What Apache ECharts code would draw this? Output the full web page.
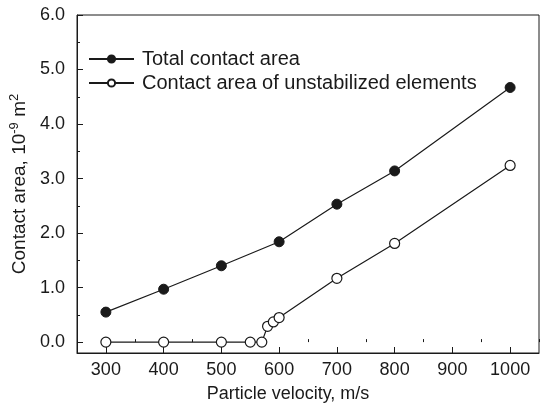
<!DOCTYPE html>
<html>
<head>
<meta charset="utf-8">
<script src="https://cdn.jsdelivr.net/npm/echarts@6/dist/echarts.min.js"></script>
<style>
html,body{margin:0;padding:0;background:#fff;}
#chart{width:550px;height:408px;}
</style>
</head>
<body>
<div id="chart"></div>
<script>
var totalVelocity = [300, 400, 500, 600, 700, 800, 1000];
var totalArea = [0.55, 0.97, 1.40, 1.84, 2.53, 3.14, 4.67];
var unstabVelocity = [300, 400, 500, 550, 570, 580, 590, 600, 700, 800, 1000];
var unstabArea = [0, 0, 0, 0, 0, 0.29, 0.37, 0.45, 1.17, 1.81, 3.24];
var xMajorTicks = [300, 400, 500, 600, 700, 800, 900, 1000];
var xMinorTicks = [250, 350, 450, 550, 650, 750, 850, 950, 1050];
var yMajorTicks = [0, 1, 2, 3, 4, 5, 6];
var yMinorTicks = [0.5, 1.5, 2.5, 3.5, 4.5, 5.5];
var seriesNames = ['Total contact area', 'Contact area of unstabilized elements'];

function pairs(xs, ys) { return xs.map(function (x, i) { return [x, ys[i]]; }); }

var FONT = 'Liberation Sans, Arial, Helvetica, sans-serif';
var INK = '#1a1a1a';
var chart = echarts.init(document.getElementById('chart'), null, {renderer: 'canvas'});
chart.setOption({
  animation: false,
  backgroundColor: '#fff',
  textStyle: {fontFamily: FONT, color: INK},
  grid: {left: 77, right: 11, top: 15, bottom: 48, show: true, borderColor: INK, borderWidth: 1, backgroundColor: 'transparent'},
  legend: {
    orient: 'vertical', left: 83, top: 44, itemWidth: 45, itemHeight: 9, itemGap: 4,
    textStyle: {fontFamily: FONT, fontSize: 20, color: INK, padding: [0, 0, 0, 3]},
    data: seriesNames
  },
  xAxis: [{
    type: 'value', min: 250, max: 1050, position: 'bottom',
    name: 'Particle velocity, m/s', nameLocation: 'middle', nameGap: 32,
    nameTextStyle: {fontSize: 18, color: INK, fontFamily: FONT, padding: [0, 40, 0, 0]},
    axisLine: {show: true, onZero: false, lineStyle: {color: INK, width: 1}},
    axisTick: {show: true, inside: true, length: 6, customValues: xMajorTicks, lineStyle: {color: INK}},
    axisLabel: {customValues: xMajorTicks, fontSize: 18, color: INK, fontFamily: FONT, margin: 8,
      formatter: function (v) { return String(v); }},
    splitLine: {show: false}
  }, {
    type: 'value', min: 250, max: 1050, position: 'bottom', gridIndex: 0,
    axisLine: {show: false},
    axisTick: {show: true, inside: true, length: 3, customValues: xMinorTicks, lineStyle: {color: INK}},
    axisLabel: {show: false},
    splitLine: {show: false}
  }],
  yAxis: [{
    type: 'value', min: -0.2, max: 6.0, position: 'left',
    name: '{a|Contact area, 10}{s|-9}{a| m}{s|2}', nameLocation: 'middle', nameGap: 41, nameRotate: 90,
    nameTextStyle: {
      color: INK, fontFamily: FONT, fontSize: 19,
      rich: {
        a: {fontSize: 19, lineHeight: 23, color: INK, fontFamily: FONT},
        s: {fontSize: 13, lineHeight: 13, verticalAlign: 'top', color: INK, fontFamily: FONT}
      }
    },
    axisLine: {show: true, onZero: false, lineStyle: {color: INK, width: 1}},
    axisTick: {show: true, inside: true, length: 6, customValues: yMajorTicks, lineStyle: {color: INK}},
    axisLabel: {customValues: yMajorTicks, fontSize: 18, color: INK, fontFamily: FONT, margin: 12,
      formatter: function (v) { return v.toFixed(1); }},
    splitLine: {show: false}
  }, {
    type: 'value', min: -0.2, max: 6.0, position: 'left', gridIndex: 0,
    axisLine: {show: false},
    axisTick: {show: true, inside: true, length: 3, customValues: yMinorTicks, lineStyle: {color: INK}},
    axisLabel: {show: false},
    splitLine: {show: false}
  }],
  series: [{
    name: seriesNames[0], type: 'line', xAxisIndex: 0, yAxisIndex: 0,
    data: pairs(totalVelocity, totalArea),
    symbol: 'circle', symbolSize: 10, showAllSymbol: true,
    lineStyle: {color: INK, width: 1.2},
    itemStyle: {color: INK, borderColor: INK, borderWidth: 1}
  }, {
    name: seriesNames[1], type: 'line', xAxisIndex: 0, yAxisIndex: 0,
    data: pairs(unstabVelocity, unstabArea),
    symbol: 'circle', symbolSize: 10, showAllSymbol: true,
    lineStyle: {color: INK, width: 1.2},
    itemStyle: {color: '#fff', borderColor: INK, borderWidth: 1.2}
  }]
});
</script>
</body>
</html>
